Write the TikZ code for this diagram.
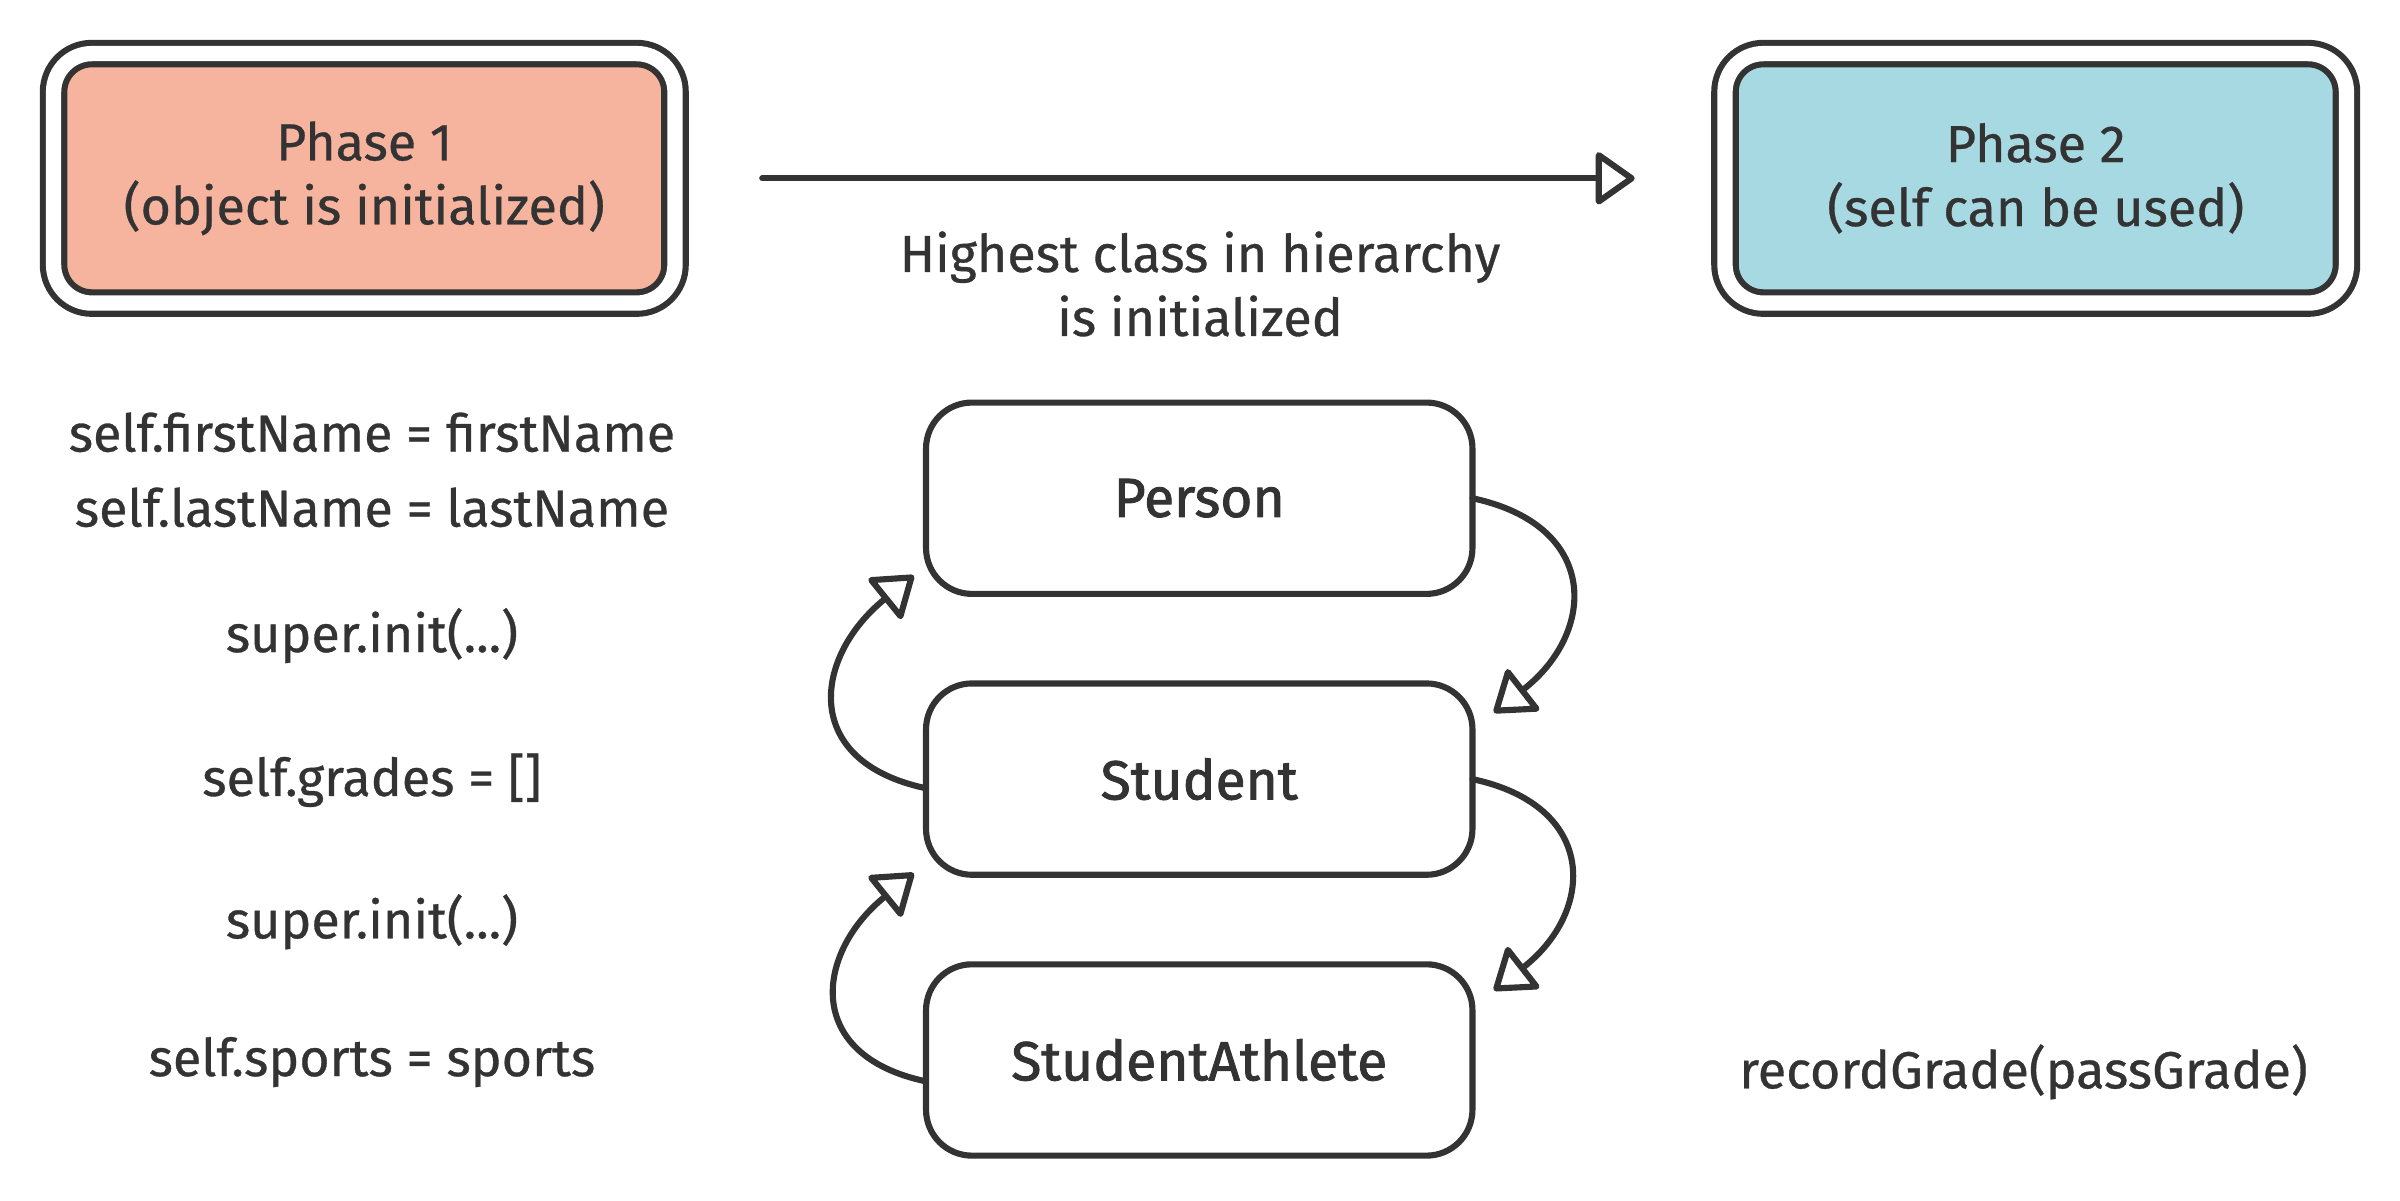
\documentclass[tikz,border=0pt]{standalone}
\usepackage{fontspec}
\setmainfont{Fira Sans}[FakeBold=0.6]
\newfontfamily\clsfont{Fira Sans}[FakeBold=1.6]
\usetikzlibrary{positioning, arrows.meta}

\definecolor{ink}{HTML}{333333}
\definecolor{phaseone}{HTML}{F6B39D}
\definecolor{phasetwo}{HTML}{A7D9E2}

\begin{document}
\begin{tikzpicture}[
	>={Triangle[open, length=13.5pt, width=18.5pt, round]},
	font=\fontsize{17}{20.9}\selectfont,
	phase/.style={
		rectangle, draw=ink, double, double distance=5pt, line width=2pt,
		rounded corners=12.5pt, minimum width=203pt, minimum height=81.5pt,
		outer sep=0pt, align=center, text=ink
	},
	cls/.style={
		rectangle, draw=ink, line width=2pt, rounded corners=15pt,
		minimum width=178.5pt, minimum height=62.5pt, outer sep=0pt, text=ink,
		font=\clsfont\fontsize{18}{22}\selectfont
	},
	code/.style={anchor=base, text=ink},
	arrow/.style={->, line width=2pt, draw=ink, line join=round, line cap=round}
	]
	\useasboundingbox (0,0) rectangle (784pt,-392pt);
	
	% Phases
	\node[phase, fill=phaseone] (phase1) at (119pt,-58.25pt) {Phase 1\\(object is initialized)};
	\node[phase, fill=phasetwo, right=343pt of phase1] (phase2) {Phase 2\\(self can be used)};
	\draw[arrow, shorten <=28.5pt, shorten >=29.5pt] (phase1) -- node[midway, yshift=-34.5pt, align=center, text=ink] (highest) {Highest class in hierarchy\\is initialized} (phase2);
	
	% Class hierarchy
	\node[cls] (person) at (391.75pt,-162.75pt) {Person};
	\node[cls, below=29.25pt of person] (student) {Student};
	\node[cls, below=29.25pt of student] (athlete) {StudentAthlete};
	
	% Calls down and back up
	\draw[arrow] (person.east) to[out=-12, in=38, looseness=1.55] ([xshift=7pt, yshift=-9.5pt]student.north east);
	\draw[arrow] (student.east) to[out=-12, in=38, looseness=1.55] ([xshift=7pt, yshift=-8.5pt]athlete.north east);
	\draw[arrow] ([yshift=-3pt]student.west) to[out=168, in=219, looseness=1.55] ([xshift=-4pt, yshift=6pt]person.south west);
	\draw[arrow] ([yshift=-7pt]athlete.west) to[out=168, in=219, looseness=1.55] ([xshift=-4pt, yshift=0.5pt]student.south west);
	
	% Statements
	\node[code] (first) at (121.5pt,-147.5pt) {self.firstName = firstName};
	\node[code] (last) at (121.5pt,-172pt) {self.lastName = lastName};
	\node[code] (superone) at (121.5pt,-213pt) {super.init(...)};
	\node[code] (grades) at (121.5pt,-260pt) {self.grades = []};
	\node[code] (supertwo) at (121.5pt,-306.5pt) {super.init(...)};
	\node[code] (sports) at (121.5pt,-351.5pt) {self.sports = sports};
	\node[code] (record) at (661pt,-355.5pt) {recordGrade(passGrade)};
	
\end{tikzpicture}
\end{document}
